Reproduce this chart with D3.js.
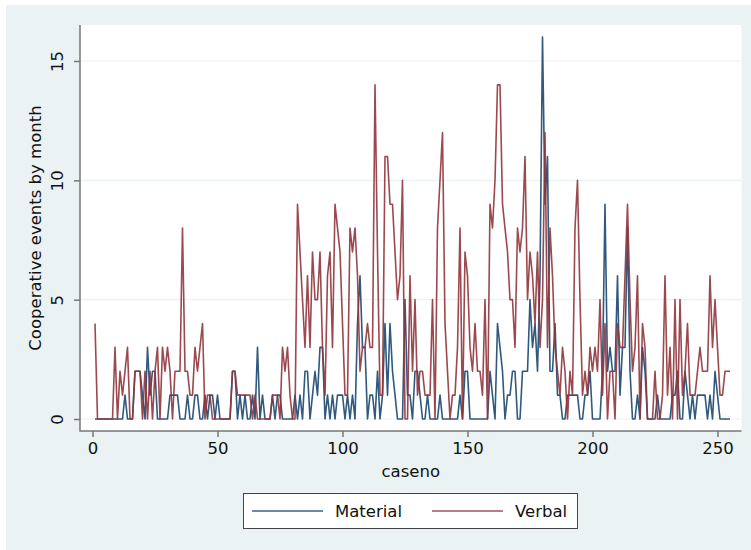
<!DOCTYPE html>
<html>
<head>
<meta charset="utf-8">
<script src="https://cdn.jsdelivr.net/npm/d3@7"></script>
<style>
	body{ margin:0; background:#fff; }
	text{ font-family:"DejaVu Sans",sans-serif; fill:#111; }
</style>
</head>
<body>
<svg id="vis" width="751" height="550"></svg>
<script>
// cases 1..255, cooperative events per month
var material = [
	0,0,0,0,0,0,0,0,0,0, 0,0,1,0,0,0,2,2,2,1, 0,3,1,2,2,0,0,0,0,0,
	1,1,1,1,0,0,0,1,0,0, 1,1,0,0,1,0,1,1,0,1, 0,0,0,0,0,2,2,0,1,0,
	1,0,0,1,0,3,0,1,0,0, 0,1,0,1,1,0,0,0,0,0, 1,0,1,0,2,2,0,1,2,1,
	3,3,0,1,0,1,0,1,1,1, 0,1,0,1,0,4,6,3,3,0, 1,1,0,2,0,1,4,1,4,2,
	1,0,0,0,5,1,1,0,2,2, 1,0,0,1,0,0,0,0,1,0, 0,0,0,0,0,0,1,0,2,2,
	0,0,0,0,0,0,0,0,2,1, 0,4,3,2,0,1,1,2,2,0, 0,2,2,2,5,3,4,2,6,16,
	9,11,2,2,4,1,1,0,0,1, 1,1,1,1,0,0,1,1,2,0, 0,0,0,2,9,2,3,2,2,6,
	1,3,3,8,2,0,0,1,0,3, 2,0,0,0,0,1,0,0,0,0, 0,1,1,2,0,0,2,1,0,1,
	0,1,1,1,1,0,1,0,2,1, 0,0,0,0,0
];
var verbal = [
	4,0,0,0,0,0,0,0,3,0, 2,1,2,3,0,0,2,2,2,0, 2,0,2,0,2,3,0,3,2,3,
	2,0,2,2,2,8,2,2,1,1, 3,2,3,4,0,1,1,0,0,0, 0,0,0,0,0,2,2,1,1,1,
	1,1,1,0,1,0,0,0,0,0, 0,1,1,1,0,3,2,3,1,0, 0,9,7,5,3,6,3,7,5,5,
	7,3,1,6,7,3,9,8,7,4, 1,1,8,7,8,6,2,3,3,4, 3,3,14,7,1,1,11,11,9,9,
	7,5,6,10,0,0,6,2,5,1, 2,2,1,1,1,5,0,8,10,12, 4,2,0,1,1,3,8,0,7,6,
	3,2,4,2,2,1,5,0,9,8, 10,14,14,9,8,7,5,5,3,8, 7,8,11,5,7,6,4,7,3,5,
	12,3,8,6,3,2,1,3,2,0, 2,1,8,10,5,1,2,1,3,2, 3,2,5,1,4,0,2,2,0,4,
	3,3,6,9,5,2,3,6,0,4, 3,0,0,0,2,0,0,1,6,1, 3,0,5,0,5,1,2,4,1,1,
	1,2,3,2,2,2,6,3,5,3, 1,1,2,2,2
];
var caseno = d3.range(1, material.length + 1);
var xTicks = [0, 50, 100, 150, 200, 250];
var yTicks = [0, 5, 10, 15];
var seriesNames = ['Material', 'Verbal'];
var seriesColors = ['#1a476f', '#90353b'];

var svg = d3.select('#vis');
var plot = {left:80, top:25, right:741.5, bottom:431};

svg.append('rect')
	.attr('x', 6).attr('y', 5).attr('width', 745).attr('height', 545)
	.attr('fill', '#eaf2f3');
svg.append('rect')
	.attr('x', plot.left).attr('y', plot.top)
	.attr('width', plot.right - plot.left).attr('height', plot.bottom - plot.top)
	.attr('fill', '#fff');

var x = d3.scaleLinear().domain([0, 250]).range([92.5, 717.5]);
var y = d3.scaleLinear().domain([0, 15]).range([419, 61]);

// grid
svg.append('g').selectAll('line')
	.data(yTicks).enter().append('line')
	.attr('x1', plot.left).attr('x2', plot.right)
	.attr('y1', function(d){ return y(d); })
	.attr('y2', function(d){ return y(d); })
	.attr('stroke', '#eaf2f3').attr('stroke-width', 1.2);

// series
var line = d3.line()
	.x(function(d, i){ return x(caseno[i]); })
	.y(function(d){ return y(d); });
[material, verbal].forEach(function(s, k){
	svg.append('path')
		.datum(s)
		.attr('d', line)
		.attr('fill', 'none')
		.attr('stroke', seriesColors[k])
		.attr('stroke-width', 1.6)
		.attr('stroke-opacity', 0.9)
		.attr('stroke-linejoin', 'round');
});

// axes
var xAxis = svg.append('g')
	.attr('transform', 'translate(0,' + plot.bottom + ')')
	.call(d3.axisBottom(x).tickValues(xTicks).tickSize(6).tickPadding(5).tickSizeOuter(0));
var yAxis = svg.append('g')
	.attr('transform', 'translate(' + plot.left + ',0)')
	.call(d3.axisLeft(y).tickValues(yTicks).tickSize(6).tickPadding(0).tickSizeOuter(0));
[xAxis, yAxis].forEach(function(a){
	a.select('.domain').remove();
	a.selectAll('.tick line').attr('stroke', '#777').attr('stroke-width', 1.5);
	a.selectAll('.tick text').style('font-size', '16.5px').attr('fill', '#111');
});
yAxis.selectAll('.tick text')
	.attr('x', 0).attr('dy', null)
	.attr('text-anchor', 'middle')
	.attr('transform', 'translate(-17,0) rotate(-90)');
svg.append('path')
	.attr('d', 'M' + plot.left + ',' + plot.top + 'V' + plot.bottom + 'H' + plot.right)
	.attr('fill', 'none').attr('stroke', '#777').attr('stroke-width', 1.5);

// titles
svg.append('text')
	.attr('x', (plot.left + plot.right) / 2).attr('y', 477)
	.attr('text-anchor', 'middle').style('font-size', '16.5px')
	.text('caseno');
svg.append('text')
	.attr('transform', 'translate(41,' + (plot.top + plot.bottom) / 2 + ') rotate(-90)')
	.attr('text-anchor', 'middle').style('font-size', '16.5px')
	.text('Cooperative events by month');

// legend
var lg = svg.append('g');
lg.append('rect')
	.attr('x', 243.5).attr('y', 493.5).attr('width', 334).attr('height', 35)
	.attr('fill', '#fff').attr('stroke', '#444').attr('stroke-width', 1);
var items = lg.selectAll('g.item')
	.data(seriesNames).enter().append('g')
	.attr('transform', function(d, i){ return 'translate(' + (252 + i * 180) + ',511)'; });
items.append('line')
	.attr('x1', 0).attr('x2', 71)
	.attr('stroke', function(d, i){ return seriesColors[i]; })
	.attr('stroke-width', 1.6).attr('stroke-opacity', 0.85);
items.append('text')
	.attr('x', 83).attr('y', 6)
	.style('font-size', '16.5px')
	.text(function(d){ return d; });
</script>
</body>
</html>
